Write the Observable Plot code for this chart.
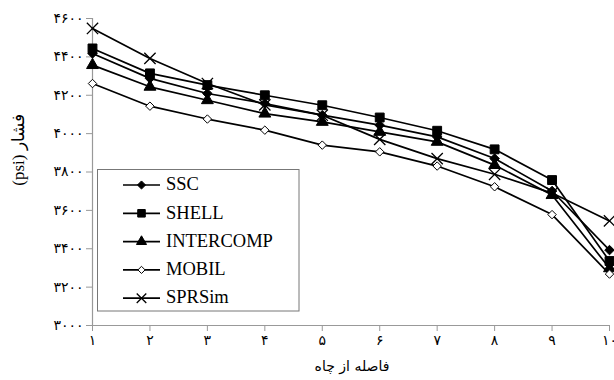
<!DOCTYPE html>
<html>
<head>
<meta charset="utf-8">
<script src="https://cdn.jsdelivr.net/npm/d3@7"></script>
<script src="https://cdn.jsdelivr.net/npm/@observablehq/plot@0.6"></script>
<style>
  html, body { margin: 0; padding: 0; background: #fff; }
  #chart { position: relative; width: 614px; height: 380px; }
</style>
</head>
<body>
<div id="chart"></div>
<script>
// ---- data ----
const distances = [1, 2, 3, 4, 5, 6, 7, 8, 9, 10];
const seriesNames = ["SSC", "SHELL", "INTERCOMP", "MOBIL", "SPRSim"];
const ssc       = [4418, 4288, 4209, 4157, 4096, 4044, 3983, 3870, 3701, 3393];
const shell     = [4444, 4314, 4253, 4200, 4148, 4084, 4015, 3918, 3758, 3336];
const intercomp = [4357, 4244, 4174, 4104, 4061, 4009, 3957, 3836, 3680, 3298];
const mobil     = [4261, 4143, 4076, 4018, 3940, 3905, 3831, 3723, 3578, 3268];
const sprsim    = [4548, 4392, 4261, 4150, 4096, 3970, 3870, 3788, 3690, 3545];
const yTicks = [3000, 3200, 3400, 3600, 3800, 4000, 4200, 4400, 4600];
const xTicks = distances;
const xLabel = "فاصله از چاه";
const yLabel = "فشار (psi)";

const valuesBySeries = [ssc, shell, intercomp, mobil, sprsim];
const markerStyle = {
  SSC:       {symbol: "diamond2", fill: "black", stroke: "black", r: 4.3, sw: 1},
  SHELL:     {symbol: "square",   fill: "black", stroke: "black", r: 5,   sw: 1},
  INTERCOMP: {symbol: "triangle", fill: "black", stroke: "black", r: 4.4, sw: 1},
  MOBIL:     {symbol: "diamond2", fill: "white", stroke: "black", r: 3.8, sw: 1},
  SPRSim:    {symbol: "times",    fill: "none",  stroke: "black", r: 5.2, sw: 1.3}
};

const rows = [];
seriesNames.forEach((s, i) => distances.forEach((d, j) => rows.push({series: s, x: d, y: valuesBySeries[i][j]})));

const fa = d => String(d).replace(/\d/g, c => "۰۱۲۳۴۵۶۷۸۹"[+c]);
const numFont = "'DejaVu Sans', 'Liberation Serif', serif";
const serif = "'Liberation Serif', 'DejaVu Serif', serif";

const dotMarks = seriesNames.map(s => {
  const m = markerStyle[s];
  return Plot.dot(rows.filter(r => r.series === s), {
    x: "x", y: "y", symbol: () => m.symbol, r: m.r,
    fill: m.fill, stroke: m.stroke, strokeWidth: m.sw
  });
});

const chart = Plot.plot({
  width: 614,
  height: 380,
  marginLeft: 92,
  marginRight: 5,
  marginTop: 18,
  marginBottom: 55,
  style: {background: "white", color: "black"},
  x: {domain: [1, 10]},
  y: {domain: [3000, 4600]},
  symbol: {type: "identity"},
  marks: [
    Plot.axisY({ticks: yTicks, tickFormat: fa, tickSize: 6, tickPadding: 3, stroke: "#999", fill: "black",
                fontSize: 14, fontFamily: numFont, label: null}),
    Plot.axisX({ticks: xTicks, tickFormat: fa, tickSize: 6, tickPadding: 4, stroke: "#999", fill: "black",
                fontSize: 14, fontFamily: numFont, label: null}),
    Plot.ruleX([1], {stroke: "#999", strokeWidth: 1.2}),
    Plot.ruleY([3000], {stroke: "#999", strokeWidth: 1.2}),
    Plot.line(rows, {x: "x", y: "y", z: "series", stroke: "black", strokeWidth: 1.7}),
    ...dotMarks
  ]
});

document.getElementById("chart").appendChild(chart);

// ---- titles and legend ----
const svg = d3.select(chart);
svg.append("text")
  .attr("x", 352).attr("y", 367)
  .attr("text-anchor", "middle").attr("dominant-baseline", "middle")
  .attr("direction", "rtl")
  .style("font-family", "'DejaVu Sans', serif").style("font-size", "14px")
  .attr("fill", "black").text(xLabel);
svg.append("text")
  .attr("transform", "translate(20,150) rotate(-90)")
  .attr("text-anchor", "middle").attr("dominant-baseline", "middle")
  .attr("direction", "rtl").attr("unicode-bidi", "embed")
  .style("font-family", serif).style("font-size", "17px")
  .attr("fill", "black").text(yLabel);

const lg = svg.append("g");
lg.append("rect").attr("x", 97.5).attr("y", 169.5).attr("width", 201.5).attr("height", 141.5)
  .attr("fill", "white").attr("stroke", "#777").attr("stroke-width", 1);
const sym = {
  diamond2: d3.symbolDiamond2, square: d3.symbolSquare, triangle: d3.symbolTriangle, times: d3.symbolTimes
};
seriesNames.forEach((s, i) => {
  const y = 185 + i * 28.3;
  const m = markerStyle[s];
  lg.append("line").attr("x1", 123).attr("x2", 160).attr("y1", y).attr("y2", y)
    .attr("stroke", "black").attr("stroke-width", 1.7);
  const size = Math.PI * (m.r * 0.85) ** 2;
  lg.append("path").attr("d", d3.symbol(sym[m.symbol], size)())
    .attr("transform", `translate(141.5,${y})`)
    .attr("fill", m.fill).attr("stroke", m.stroke).attr("stroke-width", m.sw);
  lg.append("text").attr("x", 166).attr("y", y + 1)
    .attr("text-anchor", "start")
    .attr("dominant-baseline", "middle")
    .style("font-family", serif).style("font-size", "18.5px")
    .attr("fill", "black").text(s);
});
</script>
</body>
</html>
